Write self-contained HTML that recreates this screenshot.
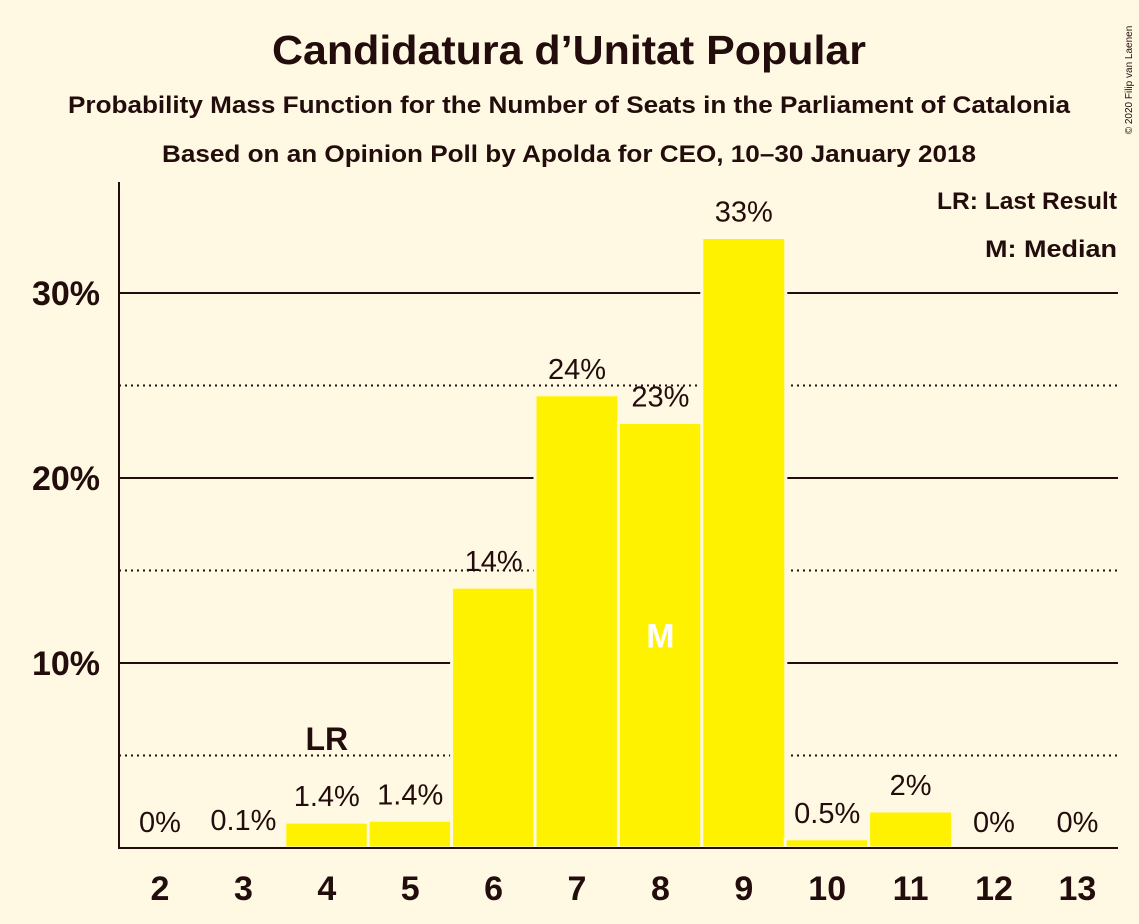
<!DOCTYPE html>
<html><head><meta charset="utf-8"><style>
body{margin:0;background:#fff9e3;}
svg{display:block;font-family:"Liberation Sans",sans-serif;}
</style></head><body>
<svg id="c" width="1139" height="924">
<rect width="1139" height="924" fill="#fff9e3"/>
<text x="569" y="64" text-anchor="middle" font-size="41" font-weight="bold" fill="#220c0c" textLength="594" lengthAdjust="spacingAndGlyphs">Candidatura d’Unitat Popular</text>
<text x="569" y="113" text-anchor="middle" font-size="24" font-weight="bold" fill="#220c0c" textLength="1002" lengthAdjust="spacingAndGlyphs">Probability Mass Function for the Number of Seats in the Parliament of Catalonia</text>
<text x="569" y="162" text-anchor="middle" font-size="24" font-weight="bold" fill="#220c0c" textLength="814" lengthAdjust="spacingAndGlyphs">Based on an Opinion Poll by Apolda for CEO, 10–30 January 2018</text>
<text x="1132" y="80" font-size="10" fill="#220c0c" transform="rotate(-90 1132 80)" text-anchor="middle">© 2020 Filip van Laenen</text>
<text x="1117" y="209" text-anchor="end" font-size="24" font-weight="bold" fill="#220c0c" textLength="180" lengthAdjust="spacingAndGlyphs">LR: Last Result</text>
<text x="1117" y="257" text-anchor="end" font-size="24" font-weight="bold" fill="#220c0c" textLength="132" lengthAdjust="spacingAndGlyphs">M: Median</text>
<g id="grid"></g><g id="bars"></g><g id="labels"></g>
<line x1="119" y1="182" x2="119" y2="848" stroke="#220c0c" stroke-width="2"/>
<line x1="118" y1="848" x2="1118" y2="848" stroke="#220c0c" stroke-width="2"/>
</svg>
<script>
const categories=[2,3,4,5,6,7,8,9,10,11,12,13];
const values=[0,0.1,1.4,1.5,14.1,24.5,23,33,0.5,2,0,0];
const valueLabels=["0%","0.1%","1.4%","1.4%","14%","24%","23%","33%","0.5%","2%","0%","0%"];
const solidTicks=[10,20,30];
const dottedTicks=[5,15,25];
const tickLabels=["10%","20%","30%"];
const lastResultIndex=2;
const medianIndex=6;
const NS="http://www.w3.org/2000/svg";
const y=v=>848-v*18.5;
const x=i=>160+i*83.4;
function mk(t,a,p){const e=document.createElementNS(NS,t);for(const k in a)e.setAttribute(k,a[k]);p.appendChild(e);return e;}
const grid=document.getElementById('grid'),bars=document.getElementById('bars'),labels=document.getElementById('labels');
solidTicks.forEach((t,i)=>{
 const l=mk('line',{x1:119,x2:1118,y1:y(t),y2:y(t),stroke:'#220c0c','stroke-width':2},grid);
 
 
 const tx=mk('text',{x:100,y:y(t)+12,'text-anchor':'end','font-size':34,'font-weight':'bold',fill:'#220c0c'},grid);
 tx.textContent=tickLabels[i];
 
 
});
dottedTicks.forEach(t=>{
 const l=mk('line',{x1:119,x2:1118,y1:y(t),y2:y(t),stroke:'#220c0c','stroke-width':2,'stroke-dasharray':'2 4'},grid);
 
 
});
categories.forEach((c,i)=>{
 if(values[i]>0){
  const r=mk('rect',{x:x(i)-42,y:y(values[i]),width:84,height:848-y(values[i]),fill:'#fff200',stroke:'#fff9e3','stroke-width':3},bars);
  
  
 }
 const v=mk('text',{x:x(i),y:y(values[i])-16,'text-anchor':'middle','font-size':29,fill:'#220c0c'},labels);
 v.textContent=valueLabels[i];
 
 
 const xl=mk('text',{x:x(i),y:900,'text-anchor':'middle','font-size':34,'font-weight':'bold',fill:'#220c0c'},labels);
 xl.textContent=c;
 
 
});
const lr=mk('text',{x:x(lastResultIndex),y:y(values[lastResultIndex])-72,'text-anchor':'middle','font-size':32,'font-weight':'bold',fill:'#220c0c'},labels);
lr.textContent='LR';


const m=mk('text',{x:x(medianIndex),y:y(values[medianIndex]/2)+12,'text-anchor':'middle','font-size':34,'font-weight':'bold',fill:'#ffffff'},labels);
m.textContent='M';


</script>
</body></html>
